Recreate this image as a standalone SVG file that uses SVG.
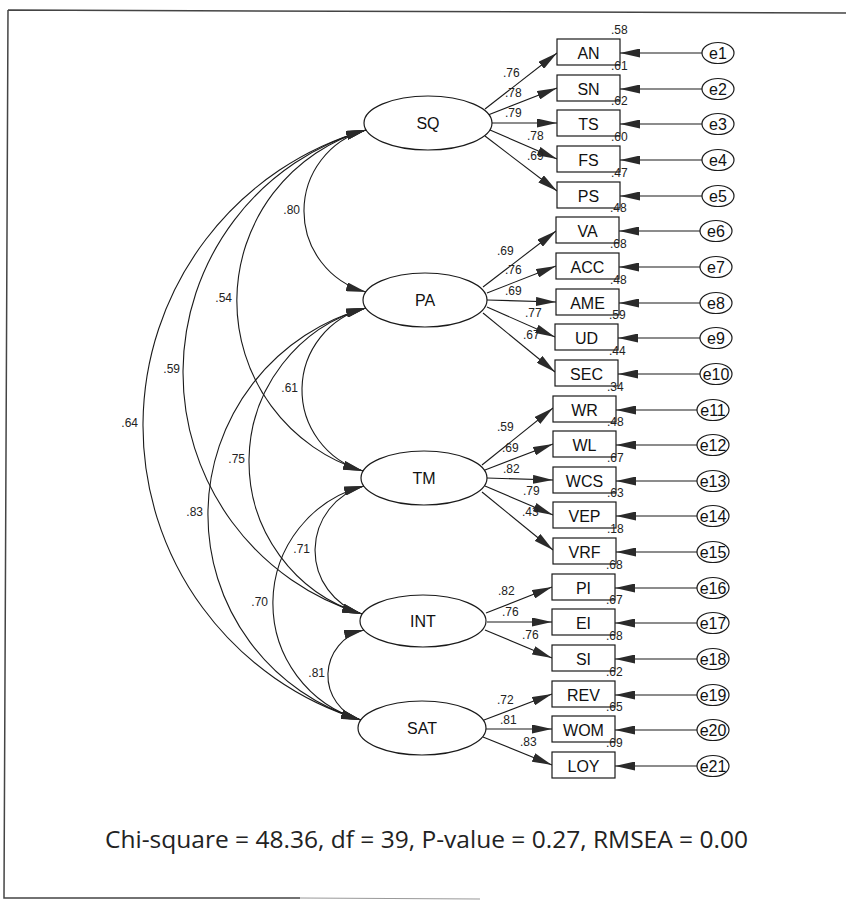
<svg xmlns="http://www.w3.org/2000/svg" width="846" height="904" viewBox="0 0 846 904">
  <style>
    .lat { fill: #fff; stroke: #1a1a1a; stroke-width: 1.2; }
    .obs { fill: #fff; stroke: #1a1a1a; stroke-width: 1.2; }
    .err { fill: #fff; stroke: #1a1a1a; stroke-width: 1.2; }
    .lbl { font-family: "Liberation Sans", Arial, sans-serif; font-size: 16px; fill: #111; text-anchor: middle; }
    .elbl { font-family: "Liberation Sans", Arial, sans-serif; font-size: 16px; fill: #111; text-anchor: middle; }
    .coef { font-family: "Liberation Sans", Arial, sans-serif; font-size: 12px; fill: #222; }
    .cov { font-family: "Liberation Sans", Arial, sans-serif; font-size: 12px; fill: #222; text-anchor: end; }
    .path { stroke: #1a1a1a; stroke-width: 1.1; fill: none; marker-end: url(#ah); }
    .arc { stroke: #1a1a1a; stroke-width: 1.1; fill: none; marker-start: url(#ah); marker-end: url(#ah); }
    .fit { font-family: "Open Sans", "Noto Sans", sans-serif; font-size: 24.5px; fill: #222; }
  </style>
  <defs>
    <marker id="ah" viewBox="0 0 20 9" refX="20" refY="4.5" markerWidth="20" markerHeight="9" markerUnits="userSpaceOnUse" orient="auto-start-reverse">
      <path d="M0,0 L20,4.5 L0,9 z" fill="#2a2a2a"/>
    </marker>
  </defs>

  <rect width="846" height="904" fill="#fff"/>

  <!-- page frame -->
  <g id="frame" fill="none">
    <path d="M8,10 L846,13 M8,10 L4,898 L300,898" stroke="#444" stroke-width="1.5"/>
    <path d="M300,898 L480,899" stroke="#999" stroke-width="1.2"/>
  </g>

  <!-- connectors -->
  <g id="connectors">
    <!-- covariances -->
    <path class="arc" d="M366,130 A83.9,83.9 0 0 0 366,292"/>
    <path class="arc" d="M366,130 A177.7,177.7 0 0 0 363,471"/>
    <path class="arc" d="M366,130 A252.3,252.3 0 0 0 362,614"/>
    <path class="arc" d="M366,130 A307.6,307.6 0 0 0 361,720"/>
    <path class="arc" d="M366,308 A84.4,84.4 0 0 0 363,471"/>
    <path class="arc" d="M366,308 A159.3,159.3 0 0 0 362,614"/>
    <path class="arc" d="M366,308 A214.2,214.2 0 0 0 361,720"/>
    <path class="arc" d="M364,486 A66.7,66.7 0 0 0 362,614"/>
    <path class="arc" d="M364,486 A121.2,121.2 0 0 0 361,720"/>
    <path class="arc" d="M364,630 A46.6,46.6 0 0 0 361,720"/>

    <!-- loadings -->
    <line class="path" x1="485" y1="109" x2="557" y2="53"/>
    <line class="path" x1="488" y1="115" x2="557" y2="88"/>
    <line class="path" x1="492" y1="123" x2="557" y2="123"/>
    <line class="path" x1="490" y1="130" x2="557" y2="159"/>
    <line class="path" x1="485" y1="136" x2="557" y2="191"/>
    <line class="path" x1="483" y1="287" x2="556" y2="231"/>
    <line class="path" x1="487" y1="293" x2="556" y2="266"/>
    <line class="path" x1="487" y1="300" x2="556" y2="302"/>
    <line class="path" x1="487" y1="307" x2="555" y2="337"/>
    <line class="path" x1="483" y1="313" x2="555" y2="372"/>
    <line class="path" x1="482" y1="465" x2="553" y2="408"/>
    <line class="path" x1="485" y1="470" x2="553" y2="444"/>
    <line class="path" x1="487" y1="478" x2="553" y2="480"/>
    <line class="path" x1="485" y1="486" x2="553" y2="515"/>
    <line class="path" x1="482" y1="492" x2="553" y2="550"/>
    <line class="path" x1="486" y1="613" x2="552" y2="587"/>
    <line class="path" x1="487" y1="622" x2="552" y2="622"/>
    <line class="path" x1="485" y1="630" x2="552" y2="658"/>
    <line class="path" x1="484" y1="720" x2="552" y2="694"/>
    <line class="path" x1="486" y1="729" x2="552" y2="729"/>
    <line class="path" x1="483" y1="737" x2="552" y2="765"/>

    <!-- error terms -->
    <line class="path" x1="702" y1="53" x2="620" y2="53"/>
    <line class="path" x1="702" y1="89" x2="620" y2="89"/>
    <line class="path" x1="702" y1="124" x2="620" y2="124"/>
    <line class="path" x1="702" y1="160" x2="620" y2="160"/>
    <line class="path" x1="702" y1="196" x2="620" y2="196"/>
    <line class="path" x1="700" y1="231" x2="619" y2="231"/>
    <line class="path" x1="700" y1="267" x2="619" y2="267"/>
    <line class="path" x1="700" y1="303" x2="619" y2="303"/>
    <line class="path" x1="700" y1="338" x2="618" y2="338"/>
    <line class="path" x1="700" y1="374" x2="618" y2="374"/>
    <line class="path" x1="697" y1="410" x2="616" y2="410"/>
    <line class="path" x1="697" y1="445" x2="616" y2="445"/>
    <line class="path" x1="697" y1="481" x2="616" y2="481"/>
    <line class="path" x1="697" y1="516" x2="616" y2="516"/>
    <line class="path" x1="697" y1="552" x2="616" y2="552"/>
    <line class="path" x1="697" y1="588" x2="615" y2="588"/>
    <line class="path" x1="697" y1="623" x2="615" y2="623"/>
    <line class="path" x1="697" y1="659" x2="615" y2="659"/>
    <line class="path" x1="697" y1="695" x2="615" y2="695"/>
    <line class="path" x1="697" y1="730" x2="615" y2="730"/>
    <line class="path" x1="697" y1="766" x2="615" y2="766"/>
  </g>

  <!-- latent factors -->
  <g id="SQ"><ellipse class="lat" cx="428" cy="123" rx="64" ry="27"/><text class="lbl" x="428" y="128.5">SQ</text></g>
  <g id="PA"><ellipse class="lat" cx="425" cy="300" rx="62" ry="27"/><text class="lbl" x="425" y="305.5">PA</text></g>
  <g id="TM"><ellipse class="lat" cx="424" cy="478" rx="63" ry="27"/><text class="lbl" x="424" y="483.5">TM</text></g>
  <g id="INT"><ellipse class="lat" cx="423" cy="621" rx="63" ry="26"/><text class="lbl" x="423" y="626.5">INT</text></g>
  <g id="SAT"><ellipse class="lat" cx="422" cy="728" rx="64" ry="27"/><text class="lbl" x="422" y="733.5">SAT</text></g>

  <!-- observed indicators -->
  <g id="AN"><rect class="obs" x="557" y="39" width="63" height="26"/><text class="lbl" x="588.5" y="58.5">AN</text></g>
  <g id="SN"><rect class="obs" x="557" y="75" width="63" height="26"/><text class="lbl" x="588.5" y="94.5">SN</text></g>
  <g id="TS"><rect class="obs" x="557" y="110" width="63" height="26"/><text class="lbl" x="588.5" y="129.5">TS</text></g>
  <g id="FS"><rect class="obs" x="557" y="146" width="63" height="26"/><text class="lbl" x="588.5" y="165.5">FS</text></g>
  <g id="PS"><rect class="obs" x="557" y="182" width="63" height="26"/><text class="lbl" x="588.5" y="201.5">PS</text></g>
  <g id="VA"><rect class="obs" x="556" y="217" width="63" height="26"/><text class="lbl" x="587.5" y="236.5">VA</text></g>
  <g id="ACC"><rect class="obs" x="556" y="253" width="63" height="26"/><text class="lbl" x="587.5" y="272.5">ACC</text></g>
  <g id="AME"><rect class="obs" x="556" y="289" width="63" height="26"/><text class="lbl" x="587.5" y="308.5">AME</text></g>
  <g id="UD"><rect class="obs" x="555" y="324" width="63" height="26"/><text class="lbl" x="586.5" y="343.5">UD</text></g>
  <g id="SEC"><rect class="obs" x="555" y="360" width="63" height="26"/><text class="lbl" x="586.5" y="379.5">SEC</text></g>
  <g id="WR"><rect class="obs" x="553" y="396" width="63" height="26"/><text class="lbl" x="584.5" y="415.5">WR</text></g>
  <g id="WL"><rect class="obs" x="553" y="431" width="63" height="26"/><text class="lbl" x="584.5" y="450.5">WL</text></g>
  <g id="WCS"><rect class="obs" x="553" y="467" width="63" height="26"/><text class="lbl" x="584.5" y="486.5">WCS</text></g>
  <g id="VEP"><rect class="obs" x="553" y="502" width="63" height="26"/><text class="lbl" x="584.5" y="521.5">VEP</text></g>
  <g id="VRF"><rect class="obs" x="553" y="538" width="63" height="26"/><text class="lbl" x="584.5" y="557.5">VRF</text></g>
  <g id="PI"><rect class="obs" x="552" y="574" width="63" height="26"/><text class="lbl" x="583.5" y="593.5">PI</text></g>
  <g id="EI"><rect class="obs" x="552" y="609" width="63" height="26"/><text class="lbl" x="583.5" y="628.5">EI</text></g>
  <g id="SI"><rect class="obs" x="552" y="645" width="63" height="26"/><text class="lbl" x="583.5" y="664.5">SI</text></g>
  <g id="REV"><rect class="obs" x="552" y="681" width="63" height="26"/><text class="lbl" x="583.5" y="700.5">REV</text></g>
  <g id="WOM"><rect class="obs" x="552" y="716" width="63" height="26"/><text class="lbl" x="583.5" y="735.5">WOM</text></g>
  <g id="LOY"><rect class="obs" x="552" y="752" width="63" height="26"/><text class="lbl" x="583.5" y="771.5">LOY</text></g>

  <!-- error terms -->
  <g id="e1"><ellipse class="err" cx="718" cy="53" rx="16" ry="10.5"/><text class="elbl" x="718" y="59">e1</text></g>
  <g id="e2"><ellipse class="err" cx="718" cy="89" rx="16" ry="10.5"/><text class="elbl" x="718" y="95">e2</text></g>
  <g id="e3"><ellipse class="err" cx="718" cy="124" rx="16" ry="10.5"/><text class="elbl" x="718" y="130">e3</text></g>
  <g id="e4"><ellipse class="err" cx="718" cy="160" rx="16" ry="10.5"/><text class="elbl" x="718" y="166">e4</text></g>
  <g id="e5"><ellipse class="err" cx="718" cy="196" rx="16" ry="10.5"/><text class="elbl" x="718" y="202">e5</text></g>
  <g id="e6"><ellipse class="err" cx="716" cy="231" rx="16" ry="10.5"/><text class="elbl" x="716" y="237">e6</text></g>
  <g id="e7"><ellipse class="err" cx="716" cy="267" rx="16" ry="10.5"/><text class="elbl" x="716" y="273">e7</text></g>
  <g id="e8"><ellipse class="err" cx="716" cy="303" rx="16" ry="10.5"/><text class="elbl" x="716" y="309">e8</text></g>
  <g id="e9"><ellipse class="err" cx="716" cy="338" rx="16" ry="10.5"/><text class="elbl" x="716" y="344">e9</text></g>
  <g id="e10"><ellipse class="err" cx="716" cy="374" rx="16" ry="10.5"/><text class="elbl" x="716" y="380">e10</text></g>
  <g id="e11"><ellipse class="err" cx="713" cy="410" rx="16" ry="10.5"/><text class="elbl" x="713" y="416">e11</text></g>
  <g id="e12"><ellipse class="err" cx="713" cy="445" rx="16" ry="10.5"/><text class="elbl" x="713" y="451">e12</text></g>
  <g id="e13"><ellipse class="err" cx="713" cy="481" rx="16" ry="10.5"/><text class="elbl" x="713" y="487">e13</text></g>
  <g id="e14"><ellipse class="err" cx="713" cy="516" rx="16" ry="10.5"/><text class="elbl" x="713" y="522">e14</text></g>
  <g id="e15"><ellipse class="err" cx="713" cy="552" rx="16" ry="10.5"/><text class="elbl" x="713" y="558">e15</text></g>
  <g id="e16"><ellipse class="err" cx="713" cy="588" rx="16" ry="10.5"/><text class="elbl" x="713" y="594">e16</text></g>
  <g id="e17"><ellipse class="err" cx="713" cy="623" rx="16" ry="10.5"/><text class="elbl" x="713" y="629">e17</text></g>
  <g id="e18"><ellipse class="err" cx="713" cy="659" rx="16" ry="10.5"/><text class="elbl" x="713" y="665">e18</text></g>
  <g id="e19"><ellipse class="err" cx="713" cy="695" rx="16" ry="10.5"/><text class="elbl" x="713" y="701">e19</text></g>
  <g id="e20"><ellipse class="err" cx="713" cy="730" rx="16" ry="10.5"/><text class="elbl" x="713" y="736">e20</text></g>
  <g id="e21"><ellipse class="err" cx="713" cy="766" rx="16" ry="10.5"/><text class="elbl" x="713" y="772">e21</text></g>

  <!-- factor loadings -->
  <g id="loadings" class="coef">
    <text x="503" y="77">.76</text>
    <text x="505" y="97">.78</text>
    <text x="505" y="117">.79</text>
    <text x="527" y="140">.78</text>
    <text x="527" y="160">.69</text>
    <text x="497" y="255">.69</text>
    <text x="505" y="274">.76</text>
    <text x="505" y="295">.69</text>
    <text x="525" y="317">.77</text>
    <text x="523" y="339">.67</text>
    <text x="497" y="431">.59</text>
    <text x="502" y="452">.69</text>
    <text x="503" y="473">.82</text>
    <text x="523" y="495">.79</text>
    <text x="522" y="516">.43</text>
    <text x="498" y="595">.82</text>
    <text x="502" y="616">.76</text>
    <text x="522" y="639">.76</text>
    <text x="497" y="704">.72</text>
    <text x="500" y="724">.81</text>
    <text x="520" y="746">.83</text>
  </g>

  <!-- squared multiple correlations -->
  <g id="r2" class="coef">
    <text x="611" y="34">.58</text>
    <text x="611" y="70">.61</text>
    <text x="611" y="105">.62</text>
    <text x="611" y="141">.60</text>
    <text x="611" y="177">.47</text>
    <text x="610" y="212">.48</text>
    <text x="610" y="248">.68</text>
    <text x="610" y="284">.48</text>
    <text x="609" y="319">.59</text>
    <text x="609" y="355">.44</text>
    <text x="607" y="391">.34</text>
    <text x="607" y="426">.48</text>
    <text x="607" y="462">.67</text>
    <text x="607" y="497">.63</text>
    <text x="607" y="533">.18</text>
    <text x="606" y="569">.68</text>
    <text x="606" y="604">.67</text>
    <text x="606" y="640">.68</text>
    <text x="606" y="676">.62</text>
    <text x="606" y="711">.65</text>
    <text x="606" y="747">.69</text>
  </g>

  <!-- factor correlations -->
  <g id="correlations" class="cov">
    <text x="300" y="214">.80</text>
    <text x="232" y="302">.54</text>
    <text x="180" y="373">.59</text>
    <text x="138" y="427">.64</text>
    <text x="298" y="392">.61</text>
    <text x="245" y="463">.75</text>
    <text x="203" y="516">.83</text>
    <text x="310" y="553">.71</text>
    <text x="268" y="606">.70</text>
    <text x="325" y="677">.81</text>
  </g>

  <text class="fit" x="105" y="848" textLength="643" lengthAdjust="spacingAndGlyphs">Chi-square = 48.36, df = 39, P-value = 0.27, RMSEA = 0.00</text>
</svg>
